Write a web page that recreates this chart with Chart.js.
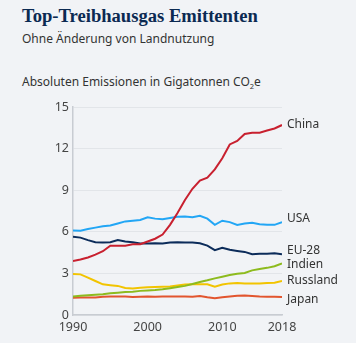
<!DOCTYPE html>
<html>
<head>
<meta charset="utf-8">
<script src="https://cdn.jsdelivr.net/npm/chart.js@4/dist/chart.umd.min.js"></script>
<style>
  html, body { margin: 0; padding: 0; background: #f1f3f6; }
  #wrap { position: relative; width: 356px; height: 343px; overflow: hidden; background: #f1f3f6; }
  .t { position: absolute; left: 22px; white-space: nowrap; margin: 0; }
  #title { top: 7.4px; font: bold 18.6px/18.6px "Liberation Serif", serif; color: #0b2a52; }
  #sub { top: 32.6px; font: 12px/12px "Noto Sans", sans-serif; color: #333; }
  #ax { top: 76px; font: 12px/12px "Noto Sans", sans-serif; color: #333; }
  #ax .s { font-size: 7.5px; position: relative; top: 3px; }
  canvas { position: absolute; left: 0; top: 0; }
</style>
</head>
<body>
<div id="wrap">
  <div class="t" id="title">Top-Treibhausgas Emittenten</div>
  <div class="t" id="sub">Ohne Änderung von Landnutzung</div>
  <div class="t" id="ax">Absoluten Emissionen in Gigatonnen CO<span class="s">2</span>e</div>
  <canvas id="c" width="356" height="343"></canvas>
</div>
<script>
const years = [1990,1991,1992,1993,1994,1995,1996,1997,1998,1999,2000,2001,2002,2003,2004,2005,2006,2007,2008,2009,2010,2011,2012,2013,2014,2015,2016,2017,2018];
const xTickLabels = [1990, 2000, 2010, 2018];
const yTicks = [0, 3, 6, 9, 12, 15];

const china   = [3.9,4.0,4.15,4.35,4.6,5.0,5.0,5.0,5.1,5.1,5.3,5.5,5.8,6.5,7.35,8.3,9.1,9.7,9.9,10.5,11.3,12.3,12.55,13.05,13.15,13.15,13.3,13.45,13.7];
const usa     = [6.1,6.08,6.2,6.3,6.4,6.45,6.6,6.75,6.8,6.85,7.05,6.95,6.9,7.0,7.08,7.1,7.05,7.15,6.95,6.5,6.8,6.7,6.5,6.6,6.65,6.55,6.5,6.5,6.7];
const eu28    = [5.65,5.58,5.4,5.25,5.22,5.25,5.4,5.3,5.25,5.15,5.15,5.18,5.15,5.22,5.25,5.22,5.22,5.17,5.0,4.68,4.85,4.7,4.62,4.55,4.38,4.42,4.42,4.45,4.38];
const indien  = [1.33,1.38,1.42,1.46,1.5,1.56,1.6,1.65,1.68,1.74,1.77,1.8,1.85,1.93,2.02,2.1,2.23,2.38,2.5,2.64,2.76,2.88,2.98,3.03,3.22,3.32,3.4,3.52,3.72];
const russland= [2.96,2.93,2.7,2.45,2.21,2.15,2.1,1.95,1.92,1.97,2.0,2.02,2.03,2.05,2.12,2.2,2.22,2.22,2.22,2.04,2.2,2.28,2.3,2.28,2.28,2.28,2.3,2.33,2.45];
const japan   = [1.25,1.27,1.27,1.27,1.32,1.33,1.34,1.33,1.29,1.31,1.33,1.31,1.34,1.34,1.34,1.33,1.32,1.37,1.28,1.21,1.28,1.33,1.39,1.41,1.37,1.33,1.32,1.31,1.3];

const seriesNames = ["China","USA","EU-28","Indien","Russland","Japan"];
const seriesData = [china, usa, eu28, indien, russland, japan];
const colors = ["#c8202f","#22a6f5","#0c2c5a","#8dbb1e","#f2c400","#e2552e"];
const labelNudge = {"China":0, "USA":-4, "EU-28":-4, "Indien":1, "Russland":0, "Japan":2.5};

const endLabels = {
  id: 'endLabels',
  afterDatasetsDraw(chart) {
    const ctx = chart.ctx;
    const ys = chart.scales.y;
    ctx.save();
    ctx.font = '12px "Noto Sans", sans-serif';
    ctx.fillStyle = '#333';
    ctx.textAlign = 'left';
    ctx.textBaseline = 'middle';
    chart.data.datasets.forEach(ds => {
      const v = ds.data[ds.data.length - 1].y;
      const y = ys.getPixelForValue(v) + (labelNudge[ds.label] || 0);
      ctx.fillText(ds.label, chart.chartArea.right + 5, y);
    });
    ctx.restore();
  }
};

new Chart(document.getElementById('c'), {
  type: 'line',
  data: {
    datasets: seriesNames.map((n, i) => ({
      label: n,
      data: years.map((yr, j) => ({ x: yr, y: seriesData[i][j] })),
      borderColor: colors[i],
      backgroundColor: colors[i],
      borderWidth: 2,
      pointRadius: 0,
      tension: 0,
      fill: false
    }))
  },
  options: {
    responsive: false,
    animation: false,
    devicePixelRatio: 1,
    layout: { padding: { left: 0, top: 107, right: 74, bottom: 0 } },
    plugins: { legend: { display: false }, tooltip: { enabled: false } },
    scales: {
      x: {
        type: 'linear',
        min: 1990, max: 2018,
        afterBuildTicks: s => { s.ticks = xTickLabels.map(v => ({ value: v })); },
        afterFit: s => { s.height = 28; },
        grid: { display: false, drawTicks: false },
        border: { display: true, color: '#c8ccd2', width: 1.5 },
        ticks: { padding: 5, color: '#444', font: { family: 'Noto Sans', size: 12.5 }, callback: v => String(v), maxRotation: 0 }
      },
      y: {
        min: 0, max: 15,
        afterBuildTicks: s => { s.ticks = yTicks.map(v => ({ value: v })); },
        afterFit: s => { s.width = 73; },
        grid: { color: '#e2e5e9', lineWidth: 1, drawTicks: false },
        border: { display: true, color: '#c8ccd2', width: 1.5 },
        ticks: { padding: 4, color: '#444', font: { family: 'Noto Sans', size: 12.5 } }
      }
    }
  },
  plugins: [endLabels]
});
</script>
</body>
</html>
